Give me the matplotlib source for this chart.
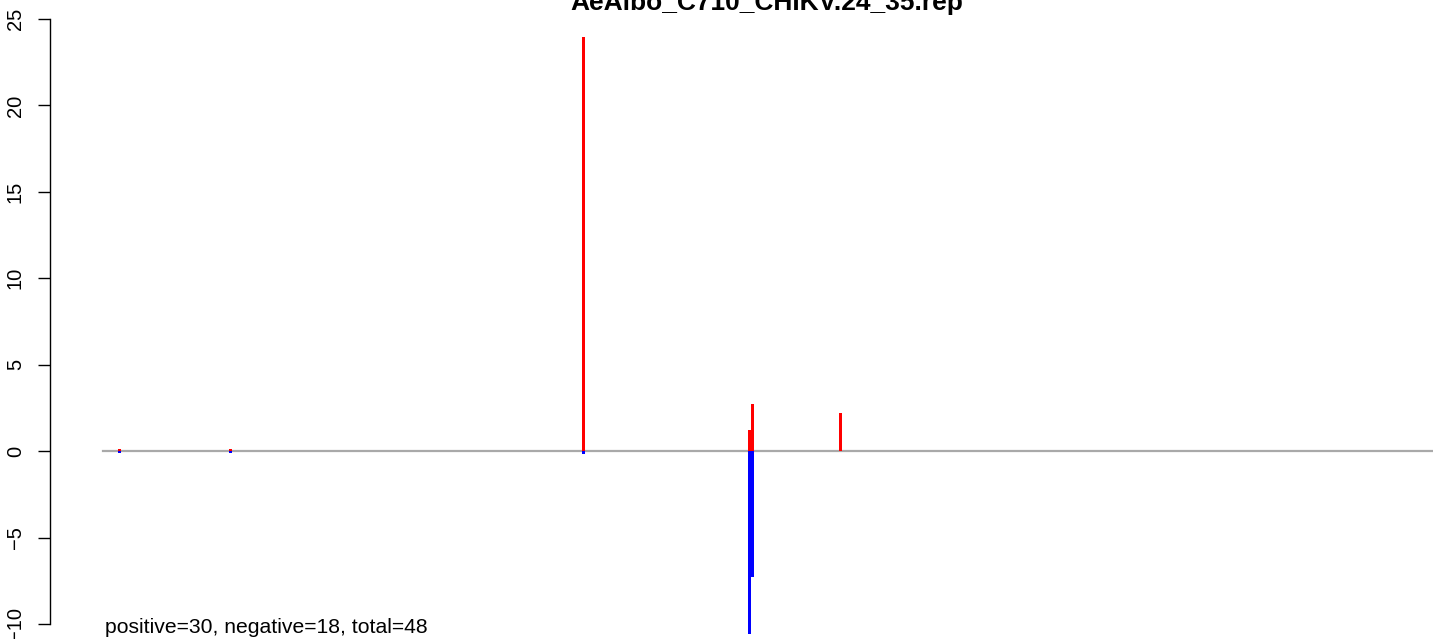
import numpy as np
import matplotlib.pyplot as plt

# read positions along reference and normalised counts (+ strand up, - strand down)
positions = [142, 1127, 4267, 5736, 5762, 6539]
pos_vals = [0.1, 0.1, 23.95, 1.2, 2.7, 2.2]
neg_vals = [-0.1, -0.1, -0.15, -10.55, -7.3, 0.0]
ref_len = 11800
y_ticks = [-10, -5, 0, 5, 10, 15, 20, 25]
title = "AeAlbo_C710_CHIKV.24_35.rep"
summary = "positive=30, negative=18, total=48"

W, H, dpi = 1433, 639, 100
fig = plt.figure(figsize=(W / dpi, H / dpi), dpi=dpi)
plt.rcParams['font.family'] = ['Liberation Sans', 'DejaVu Sans']

ax = fig.add_axes([50 / W, 0, 1 - 50 / W, 1])
upp = ref_len / (1433 - 103)          # data units per pixel
ax.set_xlim(-53 * upp, ref_len)
ppu = 17.29                           # pixels per y unit
ax.set_ylim(-10 - 15 / ppu, 25 + 19 / ppu)

ax.plot([0, ref_len], [0, 0], color='#a9a9a9', lw=1.6, zorder=1)
bw = 3 * upp
ax.bar(positions, pos_vals, width=bw, color='#ff0000', lw=0, zorder=2)
ax.bar(positions, neg_vals, width=bw, color='#0000ff', lw=0, zorder=2)

for s in ['top', 'right', 'bottom']:
    ax.spines[s].set_visible(False)
ax.spines['left'].set_bounds(-10, 25)
ax.spines['left'].set_linewidth(1.0)
ax.set_xticks([])
ax.set_yticks(y_ticks)
ax.set_yticklabels([str(t).replace('-', '\u2212') for t in y_ticks],
                   rotation=90, va='center', fontsize=14.5)
ax.tick_params(axis='y', length=9, width=1.0, pad=9)

ax.text(15, -10.5, summary, fontsize=15.2, ha='left', va='baseline')
fig.text(767 / W, 1 - 10 / H, title, fontsize=19, fontweight='bold',
         ha='center', va='baseline')

fig.savefig('out.png', dpi=dpi)
